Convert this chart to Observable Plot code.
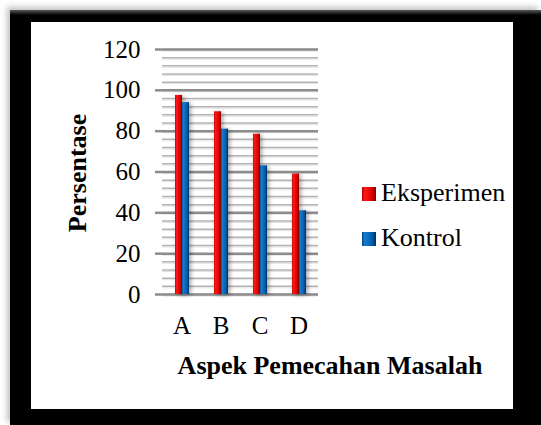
<!DOCTYPE html>
<html>
<head>
<meta charset="utf-8">
<script src="https://cdn.jsdelivr.net/npm/d3@7"></script>
<script src="https://cdn.jsdelivr.net/npm/@observablehq/plot@0.6"></script>
<style>
  html, body { margin: 0; padding: 0; background: #fff; width: 541px; height: 425px; overflow: hidden; }
  #frame { position: absolute; left: 10px; top: 10px; width: 531px; height: 415px;
    background: linear-gradient(180deg, #5a5a5a 0px, #000 5px, #000 100%);
    box-shadow: -3px -3px 6px rgba(0,0,0,0.25); }
  #inner { position: absolute; left: 21px; top: 12px; width: 482px; height: 387px; background: #fff; }
  #chart { position: absolute; left: 0; top: 0; }
  .t { position: absolute; font-family: 'Liberation Serif', 'Times New Roman', serif; color: #000; white-space: nowrap; }
  .sw { position: absolute; width: 14px; height: 14px; }
  #chart svg text { font-family: 'Liberation Serif', 'Times New Roman', serif; }
</style>
</head>
<body>
<div id="frame"><div id="inner"></div></div>
<div id="chart"></div>
<div class="t" style="left:78px; top:173px; font-size:26px; font-weight:bold; transform: translate(-50%,-50%) rotate(-90deg);">Persentase</div>
<div class="t" style="left:330px; top:366px; font-size:26px; font-weight:bold; transform: translate(-50%,-50%);">Aspek Pemecahan Masalah</div>
<div class="sw" style="left:362px; top:187px; background: linear-gradient(90deg,#b00000,#ff1a1a 20%,#e00000 70%,#800000);"></div>
<div class="t" style="left:381px; top:180px; font-size:26px; line-height:26px;">Eksperimen</div>
<div class="sw" style="left:362px; top:232px; background: linear-gradient(90deg,#004a90,#1a7ccc 20%,#0060b0 70%,#003060);"></div>
<div class="t" style="left:381px; top:225px; font-size:26px; line-height:26px;">Kontrol</div>
<script>
const aspek = ["A", "B", "C", "D"];
const series = ["Eksperimen", "Kontrol"];
const eksperimen = [97.5, 89.5, 78.5, 59];
const kontrol = [94, 81, 63, 41];
const yTicks = [0, 20, 40, 60, 80, 100, 120];
const yMinor = d3.range(0, 121, 4);

const rowsE = aspek.map((a, i) => ({aspek: a, series: "Eksperimen", value: eksperimen[i]}));
const rowsK = aspek.map((a, i) => ({aspek: a, series: "Kontrol", value: kontrol[i]}));

const plot = Plot.plot({
  width: 541,
  height: 425,
  marginLeft: 162,
  marginRight: 223,
  marginTop: 49,
  marginBottom: 131,
  style: {background: "transparent", fontFamily: "'Liberation Serif', 'Times New Roman', serif", color: "#000"},
  fx: {domain: aspek, padding: 0, label: null},
  x: {domain: series, paddingInner: 0, paddingOuter: 1.44, axis: null},
  y: {domain: [0, 120], ticks: yTicks, label: null},
  marks: [
    Plot.ruleY(yMinor, {stroke: "#e2e2e2", strokeWidth: 1, dy: 1.5}),
    Plot.ruleY(yMinor, {stroke: "#b4b4b4", strokeWidth: 1.5}),
    Plot.ruleY(yTicks, {stroke: "#8c8c8c", strokeWidth: 2.5}),
    Plot.barY(rowsE, {fx: "aspek", x: "series", y: "value", fill: "url(#gRed)"}),
    Plot.barY(rowsK, {fx: "aspek", x: "series", y: "value", fill: "url(#gBlue)"}),
    Plot.axisY({ticks: yTicks, tickSize: 7, tickPadding: 15, fontSize: 25, stroke: "#8c8c8c", strokeWidth: 2.5, line: true, label: null, color: "#000"}),
    Plot.axisFx({anchor: "bottom", tickSize: 0, tickPadding: 22, fontSize: 25, label: null})
  ]
});

const ns = "http://www.w3.org/2000/svg";
const defs = document.createElementNS(ns, "defs");
function grad(id, stops) {
  const g = document.createElementNS(ns, "linearGradient");
  g.setAttribute("id", id);
  g.setAttribute("x1", "0"); g.setAttribute("x2", "1"); g.setAttribute("y1", "0"); g.setAttribute("y2", "0");
  for (const [o, c] of stops) {
    const s = document.createElementNS(ns, "stop");
    s.setAttribute("offset", o); s.setAttribute("stop-color", c);
    g.appendChild(s);
  }
  defs.appendChild(g);
}
grad("gRed", [["0", "#b00000"], ["0.15", "#ff1a1a"], ["0.7", "#e00000"], ["1", "#7a0000"]]);
grad("gBlue", [["0", "#004a90"], ["0.15", "#1a7ccc"], ["0.7", "#0060b0"], ["1", "#002e5c"]]);
plot.insertBefore(defs, plot.firstChild);
plot.querySelectorAll("rect").forEach(r => r.style.filter = "drop-shadow(2px 1px 2px rgba(0,0,0,0.35))");
document.getElementById("chart").appendChild(plot);
</script>
</body>
</html>
